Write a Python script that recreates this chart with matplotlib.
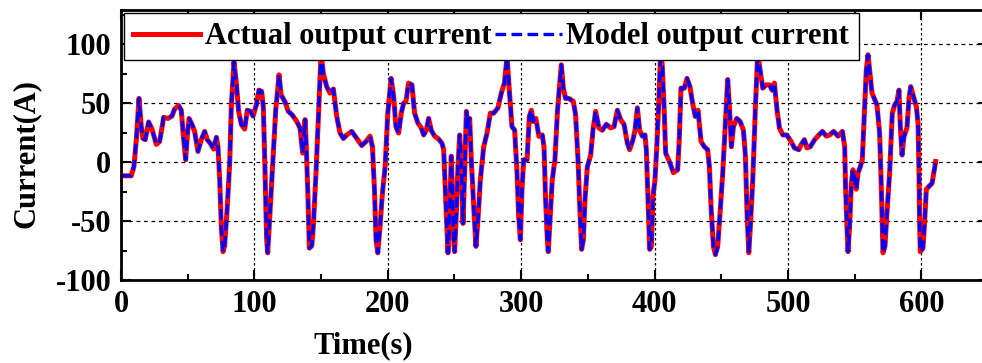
import matplotlib.pyplot as plt
from matplotlib.ticker import MultipleLocator

# values
time_s = [
    0, 7.7, 9.7, 11.5, 13.5, 15.2, 16.5, 18.2, 20.7, 23.2, 26.5, 29, 32, 35.2, 38.2, 40.2, 43.2, 45.2, 47, 48.5,
    49.7, 51, 53.2, 55.2, 57.7, 60.2, 62.7, 64.7, 67.2, 69.5, 71.5, 72.7, 74, 75.2, 76.5, 77.7, 79.7, 81.5, 82.7, 84.7,
    86.5, 88.2, 90.2, 92.7, 94.7, 97.2, 99, 101.5, 103.4, 105.4, 106.7, 108, 109.2, 110, 111.7, 113.4, 116, 118.5, 120, 123,
    125.4, 128.4, 131.7, 134.2, 136.2, 138, 138.7, 140, 141.2, 143, 144.2, 146.2, 148, 150, 151.7, 154.2, 156.7, 159.2, 161.7, 164.2,
    166.7, 169.2, 173, 176.7, 180.5, 183.7, 186.7, 188.5, 190, 191.2, 192.5, 194.2, 196, 198, 200, 202.5, 204.4, 206.1, 208.1, 210.1,
    211.9, 213.6, 215.6, 218.1, 220.1, 222.6, 225.1, 226.9, 228.9, 230.6, 232.6, 235.1, 238.1, 240.6, 241.9, 243.1, 244.4, 245.1, 246.4, 247.6,
    248.6, 249.4, 250.1, 251.4, 252.6, 253.9, 255.1, 256.4, 257.6, 258.9, 260.1, 261.4, 262.6, 264.4, 266.1, 267.6, 269.4, 271.9, 274.4, 276.9,
    279.4, 282.6, 285.1, 287.4, 289.4, 291.1, 293.1, 295.1, 296.9, 298.1, 299.4, 300.6, 301.9, 304.4, 306.1, 307.6, 309, 311, 313.3, 315.8,
    317.1, 318.3, 319.6, 320.3, 321.6, 323.3, 325.3, 327.1, 328.9, 330.1, 331.6, 333.3, 335.8, 339.1, 340.8, 342.6, 344.1, 345.3, 346.6, 347.8,
    349.6, 352.1, 353.8, 355.8, 358.3, 360.8, 363.8, 367.1, 369.6, 372.1, 374.6, 377.1, 379.6, 381.3, 383.8, 385.3, 387.1, 388.8, 390.8, 392.8,
    393.8, 395.1, 396.3, 397.6, 398.8, 400.3, 401.8, 403.3, 404.6, 405.8, 407.1, 408.3, 411.1, 414.1, 417.3, 418.5, 419.8, 422.3, 424.3, 426.5,
    428.5, 430.5, 432.6, 433.5, 434.8, 437.3, 439.8, 441.1, 442.3, 444.1, 445.6, 447.3, 449.1, 451.1, 453.1, 454.8, 456.1, 457.6, 459.1, 461.6,
    464.1, 466.6, 468.1, 469.3, 470.6, 471.8, 473.6, 475.6, 477.3, 479.1, 481.1, 483.6, 486.1, 488.1, 489.8, 491.8, 493.6, 496.1, 499.1, 502.3,
    504.8, 508.1, 509.8, 512.3, 514.2, 516.7, 520, 523.2, 525.8, 528.8, 531.2, 534.2, 537.5, 540.8, 542.5, 543.2, 544.2, 545, 546.2, 547.5,
    548.7, 550, 551.2, 552.5, 554.2, 555.7, 557.5, 558.7, 560, 561.2, 563, 565, 566.7, 568.7, 570, 571.2, 572.7, 574.2, 576.2, 578.2,
    580, 581.7, 583.2, 584.2, 585.5, 587, 589.2, 590.7, 592, 593.7, 596.2, 597.5, 598.2, 598.7, 599.2, 601.2, 602.5, 603.7, 605.7, 608,
    609.5, 610.7,
]
actual_current = [
    -11.6, -11.6, -3.7, 19, 54, 30, 20, 19, 34, 28, 15, 17.5, 38, 37, 39, 45, 48, 44, 19, 2,
    22, 37, 32, 26, 9, 19, 26, 19, 15.5, 11, 21, 13, -15, -54.5, -76, -71, -37.6, -1, 47, 85,
    67, 43, 32, 28, 44, 43, 39, 48.6, 61, 60, 47, -9, -66, -77, -43, -9, 44, 74, 57, 51,
    43, 40, 34.5, 29, 7.6, 36, 19, -23, -73, -71, -54.5, -9, 39, 92, 75, 64, 58.5, 62, 39, 24.6,
    20, 23, 26, 20, 14, 17.5, 22, 13, -23, -66, -77, -54.5, -26, -4, 41.5, 71, 55.6, 30, 24.6, 41.5,
    50, 51.4, 67, 65.5, 41.5, 33, 29, 23, 27, 37, 27, 22, 19.5, 16, 10.5, -23, -57, -77, -43, 5,
    -32, -66, -76, -43, -4, 23, -1, -52, -9, 43, 30, 37, 2, -37.6, -71.5, -49, -15, 13, 24.6, 41.5,
    41.5, 46, 58.5, 67, 89.5, 61, 30, 27, -9, -46, -66, -23, 2, 2, 38.7, 44, 34.5, 37, 21.8, 23,
    13, -32, -66, -76, -49, -15, 2, 41.5, 67, 82.5, 62.7, 54, 54, 51.4, 40, 2, -43, -74, -66, -32,
    -4, 6, 27, 43, 29, 27, 32, 29, 30, 44, 36, 32, 16, 10.5, 19, 27, 46, 27, 22, 23,
    10.5, -32, -74, -71.5, -29, -15, 16, 55.6, 95, 81, 47, 7.6, 0.5, -9, -6.5, 19, 62.7, 62.7, 71, 64,
    50, 38.7, 44, 33, 17.5, 13, 10.5, -4, -37.6, -71.5, -78.5, -71.5, -43, -9, 33, 70, 47, 13, 30, 37,
    34.5, 27, 5, -43, -77, -54.5, -15, 47, 93, 78, 62.7, 65.5, 65.5, 61, 67, 44, 29, 23, 23, 17.5,
    12, 10.5, 14.7, 19, 12, 13, 19, 23, 26, 22, 23, 26, 22, 26, 13, -23, -54.5, -76, -54.5, -18,
    -6.5, -15, -23, -9, -4, 2, 47, 78, 91, 78, 58.5, 53, 48.6, 24.6, -23, -77, -71.5, -43, -9, 41.5,
    48.6, 51.4, 61, 30, 6, 22, 29, 54, 64, 57, 47, 33, -9, -54.5, -76, -73, -49, -23, -20.6, -18,
    -8, 0.5,
]
# model output follows the measured current almost exactly
model_current = list(actual_current)

plt.rcParams["font.family"] = ["Liberation Serif", "DejaVu Serif"]
plt.rcParams["font.weight"] = "bold"
plt.rcParams["axes.unicode_minus"] = False

fig = plt.figure(figsize=(9.82, 3.63), dpi=100)
ax = fig.add_axes([0.1232, 0.2287, 0.883, 0.7438])

ax.plot(time_s, actual_current, color="#ff0000", lw=3.6, solid_joinstyle="round",
        label="Actual output current")
ax.plot(time_s, model_current, color="#0000ff", lw=2.4, dashes=(3.2, 1.6),
        label="Model output current")

ax.set_xlim(0, 650)
ax.set_ylim(-100, 129)
ax.xaxis.set_major_locator(MultipleLocator(100))
ax.xaxis.set_minor_locator(MultipleLocator(50))
ax.yaxis.set_major_locator(MultipleLocator(50))
ax.yaxis.set_minor_locator(MultipleLocator(25))

ax.grid(True, which="major", axis="y", color="black", linestyle=(0, (3, 3)), lw=0.9)
ax.grid(True, which="major", axis="x", color="black", linestyle=(0, (2, 2)), lw=0.9)
ax.tick_params(which="both", direction="in", top=True, right=True, width=1.5, labelsize=22)
ax.tick_params(which="major", length=7, pad=7)
ax.tick_params(which="minor", length=4)
for sp in ax.spines.values():
    sp.set_linewidth(2)

ax.set_xlabel("Time(s)", fontsize=22, fontweight="bold")
ax.xaxis.set_label_coords(0.279, -0.19)
ax.set_ylabel("Current(A)", fontsize=22, fontweight="bold")
ax.yaxis.set_label_coords(-0.092, 0.47)

leg = ax.legend(loc="upper left", ncol=2, fontsize=22, frameon=True, fancybox=False,
                edgecolor="black", framealpha=1, handlelength=2.2, handletextpad=0.15,
                columnspacing=0.1, borderpad=0.3, borderaxespad=0.1)
leg.get_frame().set_linewidth(1.0)

fig.savefig("out.png", dpi=100)
